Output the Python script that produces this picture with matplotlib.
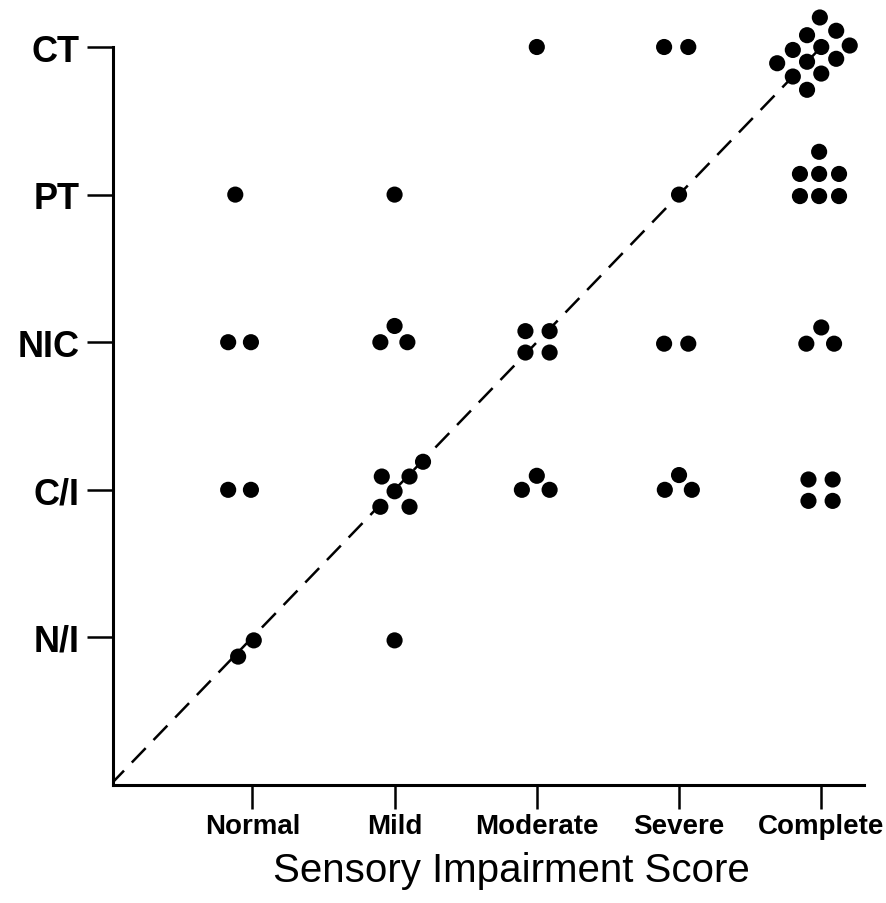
import matplotlib
matplotlib.use("Agg")
import matplotlib.pyplot as plt

plt.rcParams["font.family"] = ["Liberation Sans", "DejaVu Sans"]

# category labels
score_labels = ["Normal", "Mild", "Moderate", "Severe", "Complete"]
outcome_labels = ["N/I", "C/I", "NIC", "PT", "CT"]

# individual patients (x = score, y = outcome, small offsets as drawn)
normal_x = [0.88, 0.83, 0.99, 0.83, 0.99, 0.90, 1.01]
normal_y = [4.00, 3.00, 3.00, 2.00, 2.00, 0.87, 0.98]

mild_x = [2.00, 1.90, 2.00, 2.09, 1.91, 2.105, 2.20, 2.00, 1.90, 2.105, 2.00]
mild_y = [4.00, 3.00, 3.11, 3.00, 2.09, 2.09, 2.19, 1.99, 1.885, 1.885, 0.98]

moderate_x = [3.00, 2.92, 3.09, 2.92, 3.09, 2.895, 3.00, 3.09]
moderate_y = [5.00, 3.075, 3.075, 2.93, 2.93, 2.00, 2.095, 2.00]

severe_x = [3.895, 4.065, 4.00, 3.895, 4.065, 3.90, 4.00, 4.09]
severe_y = [5.00, 5.00, 4.00, 2.99, 2.99, 2.00, 2.10, 2.00]

complete_x = [4.99, 4.90, 5.105, 4.80, 5.00, 5.20, 4.69, 4.90, 5.105, 4.80, 5.00, 4.90,
              4.985, 4.85, 4.985, 5.125, 4.85, 4.985, 5.125,
              4.895, 5.00, 5.09,
              4.91, 5.08, 4.91, 5.08]
complete_y = [5.20, 5.08, 5.11, 4.98, 5.00, 5.01, 4.89, 4.90, 4.92, 4.80, 4.82, 4.71,
              4.29, 4.14, 4.14, 4.14, 3.99, 3.99, 3.99,
              2.99, 3.10, 2.99,
              2.07, 2.07, 1.925, 1.925]

fig = plt.figure(figsize=(8.86, 9.04), dpi=100)
ax = fig.add_axes([0.1275, 0.1305, 0.8476, 0.8164])

# identity line
line, = ax.plot([0, 5], [0, 5], color="black", lw=1.8, zorder=1)
line.set_dashes((8, 4.5))

for xs, ys in [(normal_x, normal_y), (mild_x, mild_y), (moderate_x, moderate_y),
               (severe_x, severe_y), (complete_x, complete_y)]:
    ax.scatter(xs, ys, s=135, color="black", edgecolors="none", zorder=3, clip_on=False)

ax.set_xlim(0.02, 5.30)
ax.set_ylim(0, 5)

ax.spines["top"].set_visible(False)
ax.spines["right"].set_visible(False)
ax.spines["left"].set_linewidth(2.2)
ax.spines["bottom"].set_linewidth(2.2)

ax.set_xticks(range(1, 6))
ax.set_xticklabels(score_labels, fontsize=20, fontweight="bold")
ax.set_yticks(range(1, 6))
ax.set_yticklabels(outcome_labels, fontsize=26, fontweight="bold")
ax.tick_params(axis="x", length=17, width=1.8, pad=3)
ax.tick_params(axis="y", length=19, width=1.8, pad=5)

ax.set_xlabel("Sensory Impairment Score", fontsize=29)
ax.xaxis.label.set_va("baseline")
ax.xaxis.set_label_coords(0.53, -0.130)

fig.savefig("out.png", dpi=100)
